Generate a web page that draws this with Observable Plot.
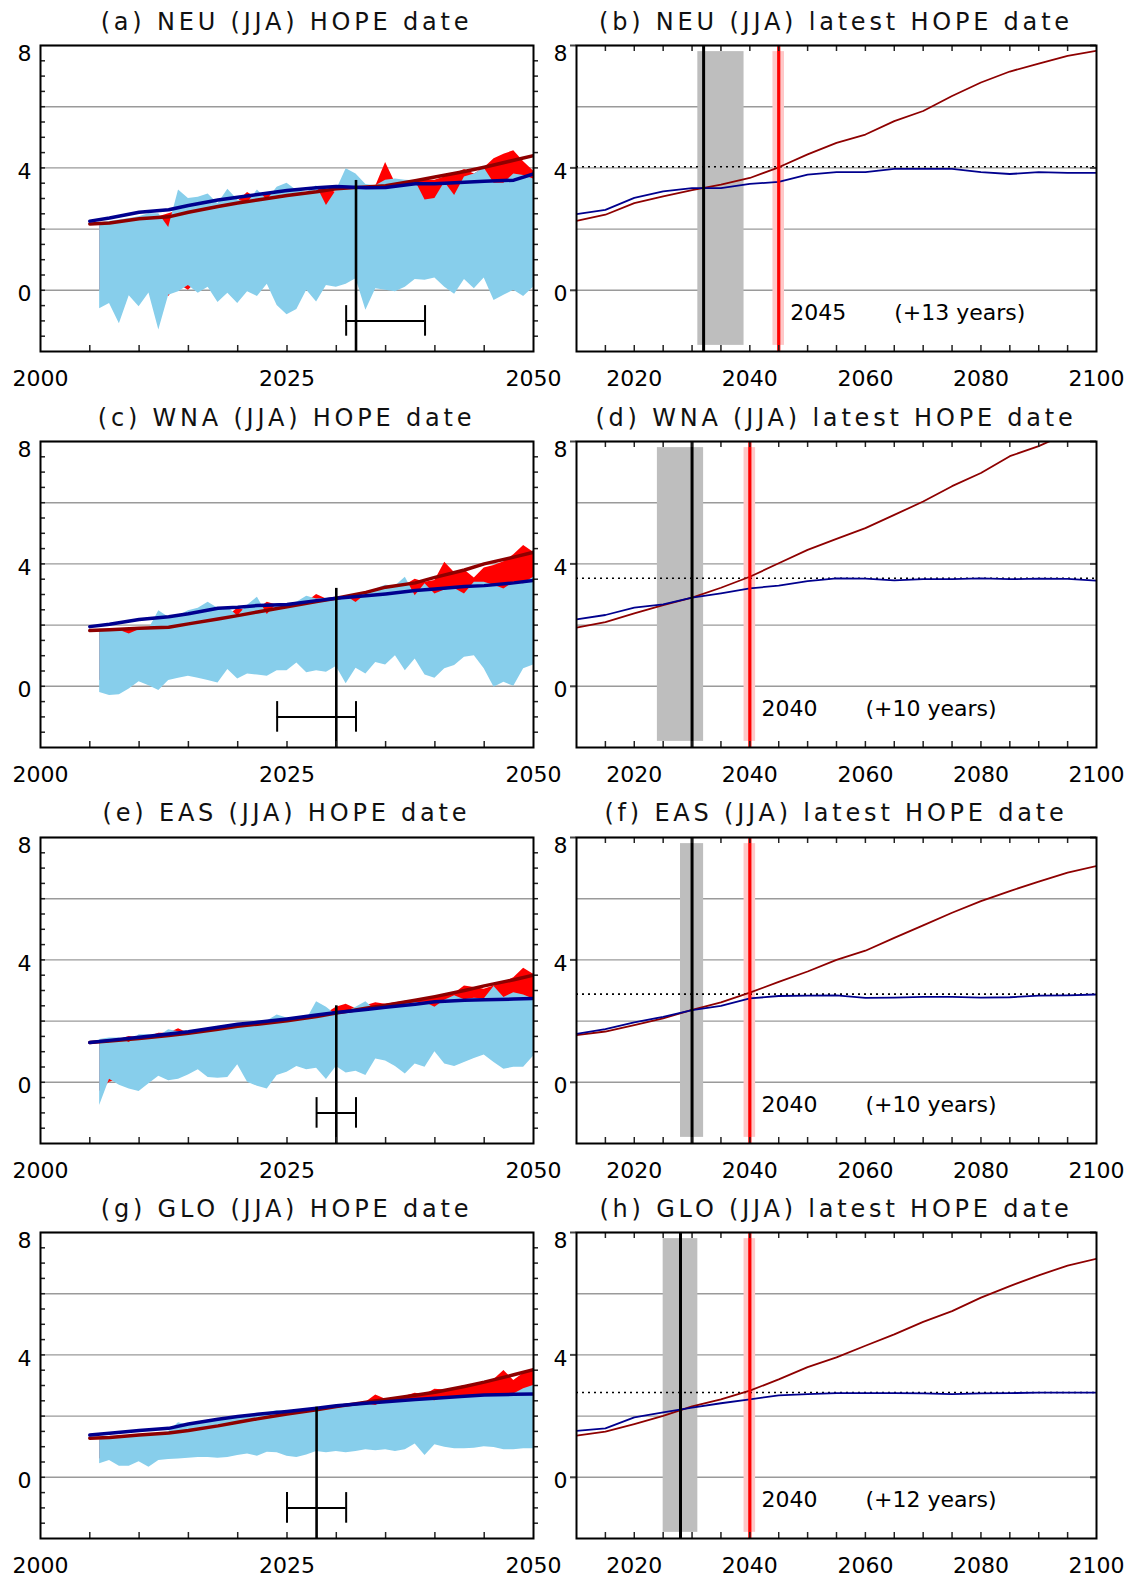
<!DOCTYPE html>
<html>
<head>
<meta charset="utf-8">
<script src="https://cdn.jsdelivr.net/npm/d3@7"></script>
<script src="https://cdn.jsdelivr.net/npm/@observablehq/plot@0.6"></script>
<style>
  body { margin: 0; background: #fff; }
  #root { position: relative; width: 1133px; height: 1577px; overflow: hidden; background: #fff; }
  .panel { position: absolute; }
  .title { position: absolute; text-align: center; font-family: "DejaVu Sans", sans-serif; font-size: 24px; line-height: 30px; letter-spacing: 3.8px; color: #111; white-space: nowrap; }
</style>
</head>
<body>
<div id="root"></div>
<script>
// ---------- shared axis data ----------
const bandYears = [2006,2007,2008,2009,2010,2011,2012,2013,2014,2015,2016,2017,2018,2019,2020,2021,2022,2023,2024,2025,2026,2027,2028,2029,2030,2031,2032,2033,2034,2035,2036,2037,2038,2039,2040,2041,2042,2043,2044,2045,2046,2047,2048,2049,2050];
const lineYearsL = [2005,2007,2010,2013,2015,2018,2020,2022,2025,2028,2030,2033,2035,2038,2040,2043,2045,2048,2050];
const lineYearsR = [2010,2015,2020,2025,2030,2035,2040,2045,2050,2055,2060,2065,2070,2075,2080,2085,2090,2095,2100];
const gridY = [0,2,4,6,8];
const minorY = [-1.5,-1,-0.5,0,0.5,1,1.5,2,2.5,3,3.5,4,4.5,5,5.5,6,6.5,7,7.5];
const majorY = [0,4,8];
const tickYearsL = [2005,2010,2015,2020,2025,2030,2035,2040,2045];
const tickYearsR = [2015,2020,2025,2030,2035,2040,2045,2050,2055,2060,2065,2070,2075,2080,2085,2090,2095];
const labelYearsL = [2000,2025,2050];
const labelYearsR = [2020,2040,2060,2080,2100];

// ---------- titles ----------
const leftTitles = ["(a) NEU (JJA) HOPE date","(c) WNA (JJA) HOPE date","(e) EAS (JJA) HOPE date","(g) GLO (JJA) HOPE date"];
const rightTitles = ["(b) NEU (JJA) latest HOPE date","(d) WNA (JJA) latest HOPE date","(f) EAS (JJA) latest HOPE date","(h) GLO (JJA) latest HOPE date"];

// ---------- left panels: ensemble ranges (light blue) ----------
const blueLoA = [-0.6,-0.43,-1.09,-0.18,-0.54,-0.09,-1.3,-0.16,-0.05,0.16,-0.1,0.1,-0.4,-0.1,-0.43,-0.05,-0.2,0.2,-0.5,-0.8,-0.63,0.0,-0.38,0.16,0.1,0.2,0.38,-0.65,0.05,0.0,-0.05,0.1,0.35,0.33,0.4,0.1,-0.13,0.35,0.05,0.4,-0.33,-0.16,0.0,-0.2,0.1];
const blueHiA = [2.2,2.25,2.3,2.35,2.4,2.5,2.5,2.05,3.28,3.0,3.04,3.15,2.83,3.3,2.95,2.85,3.28,2.95,3.37,3.5,3.26,3.2,3.42,2.77,3.26,3.97,3.8,3.46,3.42,3.6,3.64,3.6,3.58,2.95,3.0,3.53,3.1,3.7,3.8,4.0,3.5,3.5,3.8,3.75,3.64];
const redLoA = [0,0,0,0.2,0,0.2,0,-0.2,0.2,0.0,0.3,0.3,0.2,0.3,0.2,0.05,0.3,0.4,0.3,0.2,0.2,0.3,0.2,0.4,0.4,0.5,0.6,0.3,0.3,0.3,0.3,0.4,0.5,0.5,0.45,0.4,0.3,0.5,0.4,0.6,0.3,0.2,0.3,0.2,0.3];
const redHiA = [2.1,2.2,2.2,2.3,2.3,2.4,2.4,2.5,2.6,2.6,2.7,2.8,2.8,2.9,2.9,3.2,3.0,3.2,3.1,3.2,3.2,3.2,3.3,3.3,3.2,3.3,3.4,3.4,3.4,4.18,3.5,3.5,3.6,3.6,3.6,3.7,3.8,3.95,3.8,4.0,4.3,4.45,4.56,4.2,3.9];
const brownLA = [2.17,2.2,2.34,2.4,2.55,2.74,2.85,2.95,3.1,3.22,3.32,3.38,3.42,3.58,3.7,3.88,4.02,4.25,4.4];
const navyLA = [2.26,2.36,2.55,2.63,2.77,2.95,3.04,3.13,3.26,3.35,3.39,3.35,3.36,3.48,3.48,3.53,3.56,3.6,3.8];

const blueLoC = [-0.2,-0.3,-0.28,-0.09,0.15,0.02,-0.14,0.19,0.26,0.33,0.26,0.19,0.11,0.55,0.24,0.4,0.37,0.33,0.51,0.51,0.76,0.44,0.51,0.46,0.65,0.08,0.59,0.4,0.78,0.7,1.0,0.51,0.89,0.37,0.26,0.57,0.68,0.95,1.0,0.57,-0.03,0.13,0.0,0.57,0.7];
const blueHiC = [1.87,1.85,1.83,1.71,1.85,1.87,2.47,2.26,2.3,2.47,2.55,2.75,2.55,2.58,2.3,2.65,2.91,2.35,2.7,2.7,2.75,2.94,2.85,2.88,2.9,2.95,2.74,3.0,3.18,3.3,3.28,3.56,2.96,3.35,3.02,3.15,3.2,3.02,3.4,3.4,3.3,3.18,3.4,3.35,3.56];
const redLoC = [0.2,0.1,0.1,0.2,0.4,0.3,0.2,0.4,0.5,0.5,0.5,0.4,0.4,0.7,0.5,0.6,0.6,0.5,0.7,0.7,0.9,0.6,0.7,0.7,0.8,0.3,0.8,0.6,0.9,0.9,1.1,0.7,1.0,0.6,0.5,0.8,0.9,1.1,1.1,0.8,0.3,0.4,0.3,0.8,0.9];
const redHiC = [1.8,1.8,1.8,1.85,1.85,1.85,1.9,1.95,2.0,2.05,2.1,2.2,2.25,2.3,2.55,2.45,2.5,2.75,2.65,2.65,2.7,2.75,3.0,2.85,2.85,2.9,2.95,2.95,3.05,3.15,3.2,3.3,3.5,3.4,3.46,4.05,3.71,3.8,3.54,3.87,3.95,4.07,4.3,4.6,4.38];
const brownLC = [1.82,1.85,1.9,1.93,2.04,2.2,2.31,2.43,2.6,2.77,2.88,3.07,3.24,3.38,3.56,3.8,4.0,4.22,4.38];
const navyLC = [1.95,2.03,2.18,2.27,2.37,2.55,2.58,2.64,2.67,2.8,2.88,2.96,3.02,3.13,3.18,3.26,3.29,3.38,3.46];

const blueLoE = [-0.76,0.1,-0.1,-0.22,-0.3,-0.05,0.2,0.05,0.1,0.24,0.41,0.16,0.13,0.16,0.57,0.0,-0.13,-0.22,0.22,0.33,0.52,0.41,0.46,0.09,0.52,0.3,0.36,0.22,0.76,0.7,0.52,0.27,0.6,0.49,1.0,0.6,0.52,0.65,0.78,0.89,0.65,0.43,0.49,0.49,0.85];
const blueHiE = [1.4,1.45,1.45,1.3,1.55,1.55,1.5,1.72,1.65,1.68,1.72,1.76,1.8,1.85,1.88,1.92,1.96,2.0,2.2,2.1,2.1,2.05,2.63,2.45,2.2,2.3,2.45,2.63,2.35,2.5,2.5,2.55,2.6,2.62,2.45,2.68,2.83,2.7,2.75,2.72,3.13,2.77,2.93,2.85,2.72];
const redLoE = [-0.3,0.0,0.1,0.0,-0.1,0.1,0.4,0.3,0.3,0.4,0.6,0.4,0.3,0.4,0.7,0.2,0.1,0.0,0.4,0.5,0.7,0.6,0.6,0.3,0.7,0.5,0.5,0.4,0.9,0.9,0.7,0.5,0.8,0.7,1.1,0.8,0.7,0.8,0.9,1.0,0.8,0.6,0.7,0.7,1.0];
const redHiE = [1.3,1.35,1.4,1.5,1.45,1.5,1.6,1.6,1.75,1.6,1.65,1.7,1.75,1.8,1.85,1.9,1.95,1.98,2.05,2.05,2.1,2.1,2.2,2.25,2.45,2.55,2.4,2.5,2.6,2.55,2.6,2.65,2.65,2.7,2.75,2.85,2.9,3.15,3.1,3.04,3.15,3.26,3.42,3.73,3.53];
const brownLE = [1.3,1.35,1.43,1.53,1.6,1.73,1.83,1.9,2.01,2.15,2.26,2.42,2.52,2.68,2.8,3.0,3.15,3.35,3.5];
const navyLE = [1.3,1.37,1.47,1.58,1.65,1.8,1.9,1.96,2.07,2.2,2.28,2.38,2.45,2.55,2.63,2.68,2.7,2.72,2.74];

const blueLoG = [0.44,0.55,0.36,0.36,0.51,0.33,0.55,0.58,0.6,0.62,0.65,0.65,0.62,0.65,0.71,0.76,0.69,0.82,0.8,0.69,0.65,0.73,0.84,0.8,0.84,0.8,0.84,0.9,0.87,0.9,0.84,0.9,1.09,0.71,1.06,0.98,0.93,0.93,0.95,1.0,0.97,0.9,0.9,0.93,0.93];
const blueHiG = [1.25,1.28,1.3,1.33,1.36,1.38,1.42,1.5,1.78,1.7,1.75,1.8,1.85,1.9,1.95,2.05,2.0,2.1,2.18,2.12,2.15,2.2,2.22,2.25,2.3,2.32,2.35,2.4,2.35,2.5,2.48,2.5,2.55,2.55,2.5,2.6,2.62,2.6,2.68,2.65,2.7,2.68,2.72,2.89,3.0];
const redLoG = [0.6,0.7,0.5,0.5,0.7,0.5,0.7,0.7,0.8,0.8,0.8,0.8,0.8,0.8,0.9,0.9,0.9,1.0,1.0,0.9,0.8,0.9,1.0,1.0,1.0,1.0,1.0,1.1,1.0,1.1,1.0,1.1,1.2,0.9,1.2,1.1,1.1,1.1,1.1,1.2,1.1,1.1,1.1,1.1,1.1];
const redHiG = [1.2,1.25,1.28,1.3,1.32,1.35,1.38,1.45,1.5,1.55,1.6,1.65,1.7,1.75,1.8,1.85,1.9,1.95,2.0,2.05,2.1,2.15,2.2,2.25,2.3,2.35,2.4,2.45,2.69,2.55,2.6,2.65,2.75,2.7,2.88,2.85,2.9,3.0,3.0,3.1,3.2,3.49,3.16,3.4,3.54];
const brownLG = [1.28,1.3,1.38,1.45,1.53,1.68,1.8,1.91,2.07,2.21,2.31,2.45,2.54,2.68,2.78,2.97,3.11,3.35,3.52];
const navyLG = [1.38,1.44,1.53,1.6,1.74,1.9,1.99,2.06,2.15,2.26,2.34,2.42,2.47,2.54,2.58,2.65,2.69,2.71,2.72];

// HOPE date and its range (left panels)
const hopeYear = [2032,2030,2030,2028];
const hopeTop = [3.59,3.2,2.5,2.29];
const hopeLow = [2031,2024,2028,2025];
const hopeHigh = [2039,2032,2032,2031];
const hopeBarY = [-1,-1,-1,-1];

// ---------- right panels ----------
const brownRB = [2.27,2.47,2.85,3.07,3.27,3.45,3.67,4.02,4.44,4.82,5.09,5.53,5.86,6.35,6.79,7.15,7.41,7.66,7.83];
const navyRB = [2.49,2.63,3.02,3.23,3.34,3.34,3.48,3.54,3.78,3.86,3.86,3.97,3.97,3.97,3.86,3.8,3.86,3.84,3.84];
const brownRD = [1.92,2.1,2.38,2.65,2.9,3.22,3.58,4.02,4.46,4.82,5.17,5.6,6.04,6.54,6.97,7.52,7.85,8.27,8.7];
const navyRD = [2.19,2.33,2.57,2.68,2.9,3.04,3.2,3.29,3.44,3.53,3.52,3.46,3.5,3.5,3.53,3.5,3.52,3.51,3.45];
const brownRF = [1.54,1.66,1.87,2.09,2.37,2.61,2.93,3.28,3.62,4.0,4.3,4.72,5.13,5.54,5.92,6.25,6.56,6.85,7.07];
const navyRF = [1.58,1.74,1.96,2.14,2.36,2.5,2.74,2.82,2.83,2.84,2.76,2.77,2.79,2.79,2.77,2.78,2.83,2.84,2.87];
const brownRH = [1.36,1.49,1.74,2.01,2.32,2.55,2.83,3.2,3.6,3.92,4.3,4.67,5.08,5.43,5.87,6.25,6.6,6.92,7.14];
const navyRH = [1.52,1.6,1.96,2.12,2.28,2.42,2.55,2.68,2.72,2.75,2.75,2.75,2.74,2.72,2.74,2.75,2.77,2.77,2.77];

const latestYear = [2045,2040,2040,2040];
const latestLow = [2044,2039,2039,2039];
const latestHigh = [2046,2041,2041,2041];
const latestLabel = ["2045","2040","2040","2040"];
const plusLabel = ["(+13 years)","(+10 years)","(+10 years)","(+12 years)"];
const threshold = [4.04,3.53,2.88,2.77];

const bandsBlueLo = [blueLoA, blueLoC, blueLoE, blueLoG];
const bandsBlueHi = [blueHiA, blueHiC, blueHiE, blueHiG];
const bandsRedLo = [redLoA, redLoC, redLoE, redLoG];
const bandsRedHi = [redHiA, redHiC, redHiE, redHiG];
const brownL = [brownLA, brownLC, brownLE, brownLG];
const navyL = [navyLA, navyLC, navyLE, navyLG];
const brownR = [brownRB, brownRD, brownRF, brownRH];
const navyR = [navyRB, navyRD, navyRF, navyRH];

// ---------- layout ----------
const zeroY = [290, 685.7, 1081.3, 1477];
const H = 364, MT = 20, MB = 38;
const LW = 548, LML = 40, LMR = 15;
const RLEFT = 548, RW = 585, RML = 28, RMR = 37;
const BROWN = "#8e0000", NAVY = "#00008e";
const FONT = "DejaVu Sans, sans-serif";

const root = document.getElementById("root");

function place(el, left, top) {
  const d = document.createElement("div");
  d.className = "panel";
  d.style.left = left + "px";
  d.style.top = top + "px";
  d.appendChild(el);
  root.appendChild(d);
}
function title(text, left, width, centerY) {
  const d = document.createElement("div");
  d.className = "title";
  d.style.left = left + "px";
  d.style.width = width + "px";
  d.style.top = (centerY - 15) + "px";
  d.textContent = text;
  root.appendChild(d);
}

function leftPanel(i) {
  const band = bandYears.map((x, j) => ({x, lo: bandsBlueLo[i][j], hi: bandsBlueHi[i][j], rlo: bandsRedLo[i][j], rhi: bandsRedHi[i][j]}));
  const brown = lineYearsL.map((x, j) => ({x, y: brownL[i][j]}));
  const navy = lineYearsL.map((x, j) => ({x, y: navyL[i][j]}));
  const fw = LW - LML - LMR, fh = H - MT - MB;
  return Plot.plot({
    width: LW, height: H, marginLeft: LML, marginRight: LMR, marginTop: MT, marginBottom: MB,
    x: {domain: [2000, 2050]}, y: {domain: [-2, 8]},
    style: {background: "transparent", fontFamily: FONT, fontSize: "22px", color: "#000", overflow: "visible"},
    marks: [
      Plot.ruleY(gridY, {stroke: "#9a9a9a", strokeWidth: 1.4}),
      Plot.areaY(band, {x: "x", y1: "rlo", y2: "rhi", fill: "#ff0000"}),
      Plot.areaY(band, {x: "x", y1: "lo", y2: "hi", fill: "#87ceeb"}),
      Plot.line(brown, {x: "x", y: "y", stroke: BROWN, strokeWidth: 3.5, clip: true}),
      Plot.line(navy, {x: "x", y: "y", stroke: NAVY, strokeWidth: 3.5, clip: true}),
      Plot.ruleX([hopeYear[i]], {y1: -2, y2: hopeTop[i], stroke: "#000", strokeWidth: 2.6}),
      Plot.ruleY([hopeBarY[i]], {x1: hopeLow[i], x2: hopeHigh[i], stroke: "#000", strokeWidth: 2}),
      Plot.ruleX([hopeLow[i], hopeHigh[i]], {y1: hopeBarY[i] - 0.5, y2: hopeBarY[i] + 0.5, stroke: "#000", strokeWidth: 2}),
      Plot.tickY(minorY, {y: d => d, insetRight: fw - 5, stroke: "#222", strokeWidth: 1.5}),
      Plot.tickY(minorY, {y: d => d, insetLeft: fw - 5, dx: 5, stroke: "#222", strokeWidth: 1.5}),
      Plot.tickX(tickYearsL, {x: d => d, insetTop: fh - 6, stroke: "#222", strokeWidth: 1.5}),
      Plot.frame({stroke: "#000", strokeWidth: 2}),
      Plot.axisX(labelYearsL, {tickSize: 0, tickPadding: 19, tickFormat: d => String(d), fontSize: 22, label: null}),
      Plot.axisY([0, 4], {tickSize: 0, tickPadding: 9, dy: 4, tickFormat: d => String(d), fontSize: 22, label: null}),
      Plot.axisY([8], {tickSize: 0, tickPadding: 9, dy: 8, tickFormat: d => String(d), fontSize: 22, label: null})
    ]
  });
}

function rightPanel(i) {
  const brown = lineYearsR.map((x, j) => ({x, y: brownR[i][j]}));
  const navy = lineYearsR.map((x, j) => ({x, y: navyR[i][j]}));
  const fw = RW - RML - RMR, fh = H - MT - MB;
  const labels = [
    {x: latestYear[i] + 2, y: -0.75, t: latestLabel[i]},
    {x: latestYear[i] + 20, y: -0.75, t: plusLabel[i]}
  ];
  return Plot.plot({
    width: RW, height: H, marginLeft: RML, marginRight: RMR, marginTop: MT, marginBottom: MB,
    x: {domain: [2010, 2100]}, y: {domain: [-2, 8]},
    style: {background: "transparent", fontFamily: FONT, fontSize: "22px", color: "#000", overflow: "visible"},
    marks: [
      Plot.ruleY(gridY, {stroke: "#9a9a9a", strokeWidth: 1.4}),
      Plot.rect([0], {x1: hopeLow[i], x2: hopeHigh[i], y1: -1.8, y2: 7.8, fill: "#bebebe"}),
      Plot.rect([0], {x1: latestLow[i], x2: latestHigh[i], y1: -1.8, y2: 7.8, fill: "#ffc8c8"}),
      Plot.ruleY([threshold[i]], {stroke: "#000", strokeWidth: 1.6, strokeDasharray: "2,4"}),
      Plot.line(brown, {x: "x", y: "y", stroke: BROWN, strokeWidth: 1.8, clip: true}),
      Plot.line(navy, {x: "x", y: "y", stroke: NAVY, strokeWidth: 1.8, clip: true}),
      Plot.ruleX([hopeYear[i]], {stroke: "#000", strokeWidth: 3}),
      Plot.ruleX([latestYear[i]], {stroke: "#ff0000", strokeWidth: 3.2}),
      Plot.text(labels, {x: "x", y: "y", text: "t", textAnchor: "start", fontSize: 22, fill: "#000"}),
      Plot.tickX(tickYearsR, {x: d => d, insetTop: fh - 6, stroke: "#222", strokeWidth: 1.5}),
      Plot.tickX(tickYearsR, {x: d => d, insetBottom: fh - 6, stroke: "#222", strokeWidth: 1.5}),
      Plot.tickY(majorY, {y: d => d, insetRight: fw - 6, dx: -6, stroke: "#444", strokeWidth: 2}),
      Plot.tickY(majorY, {y: d => d, insetLeft: fw - 6, stroke: "#444", strokeWidth: 2}),
      Plot.frame({stroke: "#000", strokeWidth: 2}),
      Plot.axisX(labelYearsR, {tickSize: 0, tickPadding: 19, tickFormat: d => String(d), fontSize: 22, label: null}),
      Plot.axisY([0, 4], {tickSize: 0, tickPadding: 9, dy: 4, tickFormat: d => String(d), fontSize: 22, label: null}),
      Plot.axisY([8], {tickSize: 0, tickPadding: 9, dy: 8, tickFormat: d => String(d), fontSize: 22, label: null})
    ]
  });
}

for (let i = 0; i < 4; i++) {
  const top = zeroY[i] - 8 * 30.6 - MT;
  place(leftPanel(i), 0, top);
  place(rightPanel(i), RLEFT, top);
  title(leftTitles[i], LML, LW - LML - LMR, zeroY[i] - 268);
  title(rightTitles[i], RLEFT + RML, RW - RML - RMR, zeroY[i] - 268);
}
</script>
</body>
</html>
